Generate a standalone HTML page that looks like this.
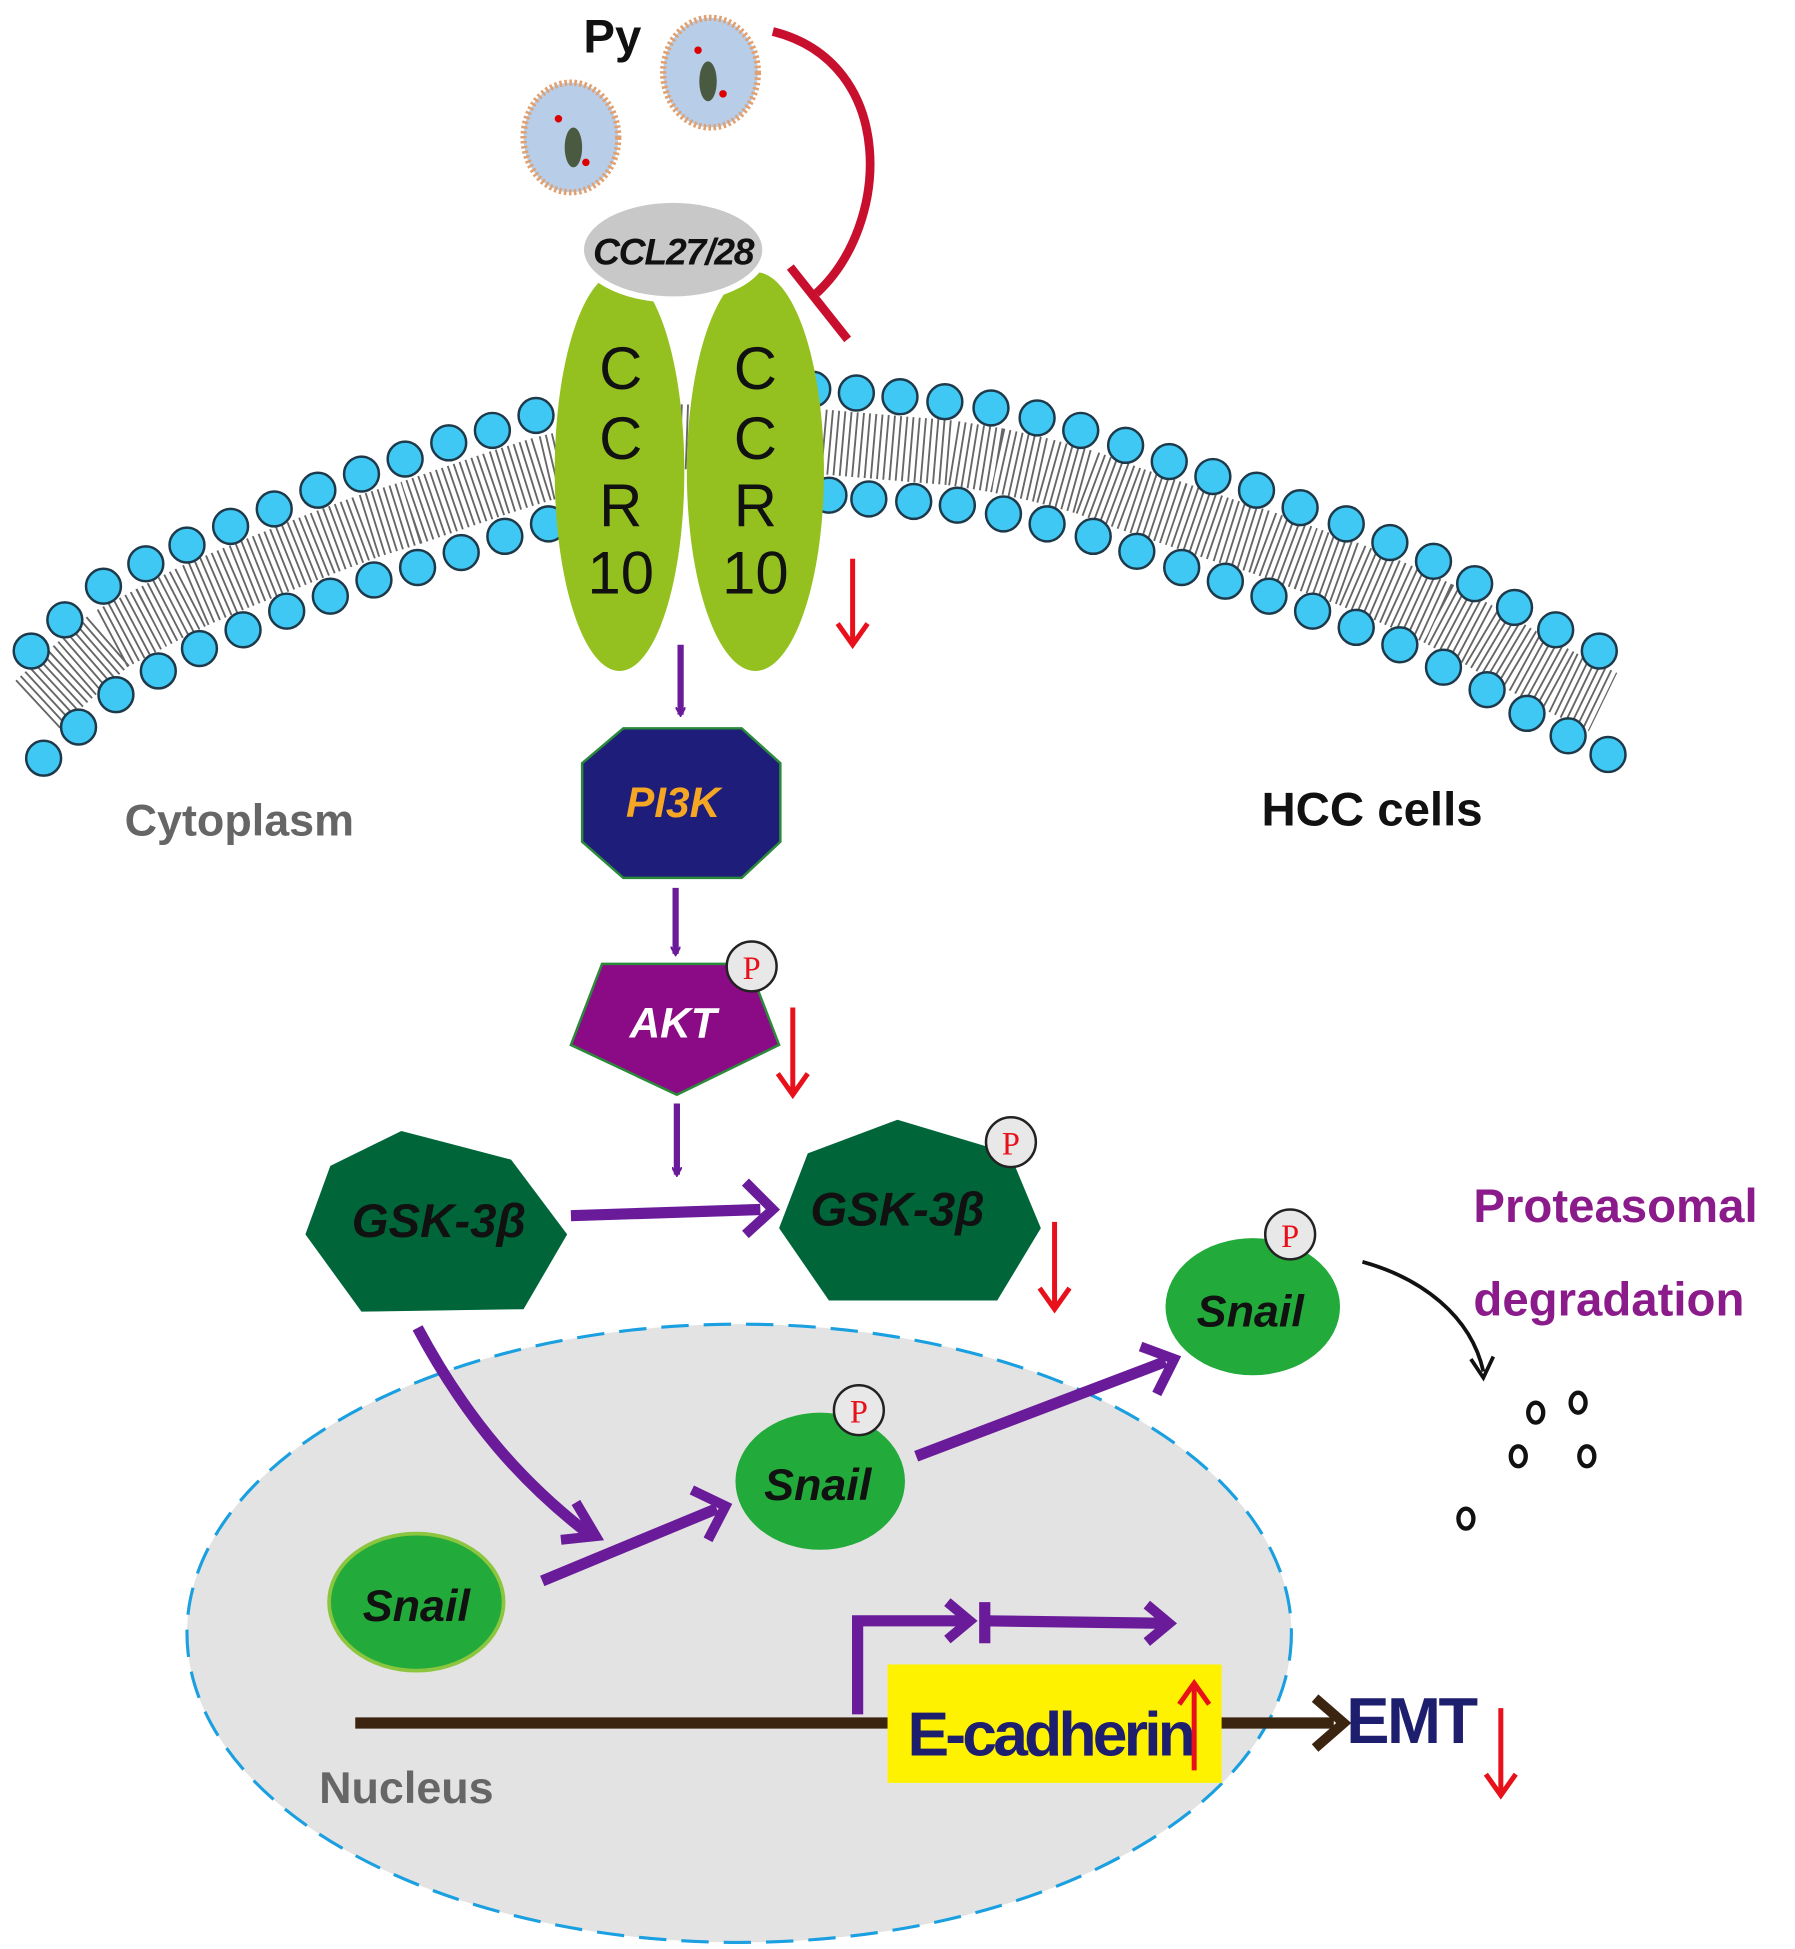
<!DOCTYPE html>
<html><head><meta charset="utf-8"><style>html,body{margin:0;padding:0;background:#fff}svg{display:block}</style></head>
<body>
<svg width="1795" height="1949" viewBox="0 0 1440 1563" xmlns="http://www.w3.org/2000/svg" font-family="Liberation Sans, sans-serif">
<defs>
<marker id="pa" markerWidth="8" markerHeight="8" refX="6" refY="4" orient="auto" markerUnits="userSpaceOnUse" viewBox="0 0 8 8"><path d="M0,0 L7,4 L0,8" fill="none" stroke="#6a1b9a" stroke-width="1.6"/></marker>
</defs>
<!-- membrane tails -->
<path d="M30,565 L57,540 L88,513 L122,495 L155,478 L190,463 L225,449 L260,435 L295,422 L330,411 L365,399 L400,387 L435,376 L545,350 L658,354 L692,357 L727,360 L763,363 L800,369 L836,377 L872,387 L907,400 L943,412 L978,424 L1013,435 L1048,448 L1084,461 L1119,476 L1154,492 L1188,510 L1220,529 L1253,547 L1286,563" fill="none" stroke="#666" stroke-width="52" stroke-dasharray="1.5 3.5"/>
<g fill="#3fc8f4" stroke="#1e3a4a" stroke-width="2">
<circle cx="25" cy="522" r="14"/><circle cx="52" cy="497" r="14"/><circle cx="83" cy="470" r="14"/><circle cx="117" cy="452" r="14"/><circle cx="150" cy="437" r="14"/><circle cx="185" cy="422" r="14"/><circle cx="220" cy="408" r="14"/><circle cx="255" cy="393" r="14"/><circle cx="290" cy="380" r="14"/><circle cx="325" cy="368" r="14"/><circle cx="360" cy="355" r="14"/><circle cx="395" cy="345" r="14"/><circle cx="430" cy="333" r="14"/>
<circle cx="652" cy="312" r="14"/><circle cx="687" cy="315" r="14"/><circle cx="722" cy="318" r="14"/><circle cx="758" cy="322" r="14"/><circle cx="795" cy="327" r="14"/><circle cx="832" cy="335" r="14"/><circle cx="867" cy="345" r="14"/><circle cx="903" cy="357" r="14"/><circle cx="938" cy="370" r="14"/><circle cx="973" cy="382" r="14"/><circle cx="1008" cy="393" r="14"/><circle cx="1043" cy="407" r="14"/><circle cx="1080" cy="420" r="14"/><circle cx="1115" cy="435" r="14"/><circle cx="1150" cy="450" r="14"/><circle cx="1183" cy="468" r="14"/><circle cx="1215" cy="487" r="14"/><circle cx="1248" cy="505" r="14"/><circle cx="1283" cy="522" r="14"/>
<circle cx="35" cy="608" r="14"/><circle cx="63" cy="583" r="14"/><circle cx="93" cy="557" r="14"/><circle cx="127" cy="538" r="14"/><circle cx="160" cy="520" r="14"/><circle cx="195" cy="505" r="14"/><circle cx="230" cy="490" r="14"/><circle cx="265" cy="478" r="14"/><circle cx="300" cy="465" r="14"/><circle cx="335" cy="455" r="14"/><circle cx="370" cy="443" r="14"/><circle cx="405" cy="430" r="14"/><circle cx="440" cy="420" r="14"/>
<circle cx="665" cy="397" r="14"/><circle cx="697" cy="400" r="14"/><circle cx="733" cy="402" r="14"/><circle cx="768" cy="405" r="14"/><circle cx="805" cy="412" r="14"/><circle cx="840" cy="420" r="14"/><circle cx="877" cy="430" r="14"/><circle cx="912" cy="442" r="14"/><circle cx="948" cy="455" r="14"/><circle cx="983" cy="466" r="14"/><circle cx="1018" cy="478" r="14"/><circle cx="1053" cy="490" r="14"/><circle cx="1088" cy="503" r="14"/><circle cx="1123" cy="517" r="14"/><circle cx="1158" cy="535" r="14"/><circle cx="1193" cy="553" r="14"/><circle cx="1225" cy="572" r="14"/><circle cx="1258" cy="590" r="14"/><circle cx="1290" cy="605" r="14"/>
</g>
<!-- receptor -->
<ellipse cx="497" cy="378" rx="52" ry="160" fill="#94c11f"/>
<ellipse cx="606" cy="378" rx="55" ry="160" fill="#94c11f"/>
<ellipse cx="540" cy="200" rx="74" ry="40" fill="#c8c8c8" stroke="#fff" stroke-width="5"/>
<text x="540" y="212" font-size="30" font-weight="bold" font-style="italic" text-anchor="middle" fill="#111" letter-spacing="-1">CCL27/28</text>
<g font-size="48" text-anchor="middle" fill="#111">
<text x="498" y="312">C</text><text x="498" y="368">C</text><text x="498" y="422">R</text><text x="498" y="476">10</text>
<text x="606" y="312">C</text><text x="606" y="368">C</text><text x="606" y="422">R</text><text x="606" y="476">10</text>
</g>
<!-- Py -->
<text x="468" y="42" font-size="38" font-weight="bold" fill="#111">Py</text>
<ellipse cx="458" cy="110" rx="38" ry="44" fill="#b8cde8" stroke="#e0a070" stroke-width="5" stroke-dasharray="2 2"/>
<ellipse cx="570" cy="58" rx="38" ry="44" fill="#b8cde8" stroke="#e0a070" stroke-width="5" stroke-dasharray="2 2"/>
<ellipse cx="460" cy="118" rx="7" ry="16" fill="#4a5a40"/><ellipse cx="568" cy="65" rx="7" ry="16" fill="#4a5a40"/>
<circle cx="448" cy="95" r="3" fill="#d00"/><circle cx="470" cy="130" r="3" fill="#d00"/><circle cx="560" cy="40" r="3" fill="#d00"/><circle cx="580" cy="75" r="3" fill="#d00"/>
<path d="M620,25 C720,50 715,180 655,235" fill="none" stroke="#c8102e" stroke-width="7"/>
<line x1="634" y1="214" x2="680" y2="272" stroke="#c8102e" stroke-width="7"/>
<!-- red arrows -->
<g stroke="#e8101a" stroke-width="4" fill="none">
<path d="M684,448 L684,517 M672,500 L684,517 L696,500"/>
<path d="M636,808 L636,878 M624,861 L636,878 L648,861"/>
<path d="M846,980 L846,1050 M834,1033 L846,1050 L858,1033"/>
<path d="M415,1265 L415,1335 M403,1318 L415,1335 L427,1318"/>
<path d="M1204,1370 L1204,1440 M1192,1423 L1204,1440 L1216,1423"/>
</g>
<!-- purple arrows -->
<g stroke="#6a1b9a" stroke-width="5" fill="none">
<line x1="546" y1="517" x2="546" y2="573" marker-end="url(#pa)"/>
<line x1="542" y1="712" x2="542" y2="765" marker-end="url(#pa)"/>
<line x1="543" y1="885" x2="543" y2="942" marker-end="url(#pa)"/>
</g>
<g stroke="#6a1b9a" stroke-width="9" fill="none">
<line x1="458" y1="975" x2="610" y2="970"/><path d="M598,948 L620,970 L598,990" stroke-width="8"/>
</g>
<!-- nucleus -->
<ellipse cx="593" cy="1310" rx="443" ry="248" fill="#e3e3e3" stroke="#1a9fe0" stroke-width="2.5" stroke-dasharray="22 12"/>
<g stroke="#6a1b9a" stroke-width="9" fill="none">
<path d="M335,1065 C375,1140 420,1190 472,1230"/><path d="M462,1205 L478,1232 L450,1235" stroke-width="8"/>
<line x1="435" y1="1268" x2="575" y2="1210"/><path d="M555,1195 L582,1208 L568,1235" stroke-width="8"/>
<line x1="735" y1="1168" x2="935" y2="1092"/><path d="M915,1080 L942,1090 L928,1118" stroke-width="8"/>
<path d="M688,1375 L688,1300 L775,1300"/><path d="M760,1285 L778,1300 L760,1315" stroke-width="8"/>
<line x1="790" y1="1285" x2="790" y2="1318"/>
<line x1="790" y1="1300" x2="935" y2="1302"/><path d="M920,1287 L938,1302 L920,1317" stroke-width="8"/>
</g>
<!-- DNA line -->
<line x1="285" y1="1382" x2="1070" y2="1382" stroke="#3b2410" stroke-width="9"/>
<path d="M1055,1362 L1078,1382 L1055,1402" fill="none" stroke="#3b2410" stroke-width="8"/>
<rect x="712" y="1335" width="268" height="95" fill="#fff200"/>
<text x="728" y="1408" font-size="50" font-weight="bold" fill="#1e1e6e" letter-spacing="-3">E-cadherin</text>
<path d="M958,1420 L958,1350 M946,1367 L958,1350 L970,1367" fill="none" stroke="#e8101a" stroke-width="4"/>
<text x="1080" y="1398" font-size="52" font-weight="bold" fill="#1e1e6e" letter-spacing="-2">EMT</text>
<!-- shapes -->
<polygon points="500,584 595,584 626,612 626,675 595,704 500,704 467,675 467,612" fill="#1e1e7a" stroke="#2a8a3a" stroke-width="2"/>
<text x="540" y="655" font-size="34" font-weight="bold" font-style="italic" text-anchor="middle" fill="#f5a623">PI3K</text>
<polygon points="483,773 600,773 625,838 543,878 458,838" fill="#8b0a85" stroke="#2a8a3a" stroke-width="2"/>
<text x="540" y="832" font-size="34" font-weight="bold" font-style="italic" text-anchor="middle" fill="#fff">AKT</text>
<polygon points="322,907 410,930 455,990 420,1050 290,1052 245,990 265,935" fill="#00663a"/>
<text x="352" y="992" font-size="38" font-weight="bold" font-style="italic" text-anchor="middle" fill="#111">GSK-3β</text>
<polygon points="720,898 810,925 835,985 800,1043 665,1043 625,985 648,925" fill="#00663a"/>
<text x="720" y="983" font-size="38" font-weight="bold" font-style="italic" text-anchor="middle" fill="#111">GSK-3β</text>
<ellipse cx="1005" cy="1048" rx="70" ry="55" fill="#22aa3a"/>
<text x="1003" y="1064" font-size="36" font-weight="bold" font-style="italic" text-anchor="middle" fill="#111">Snail</text>
<ellipse cx="658" cy="1188" rx="68" ry="55" fill="#22aa3a"/>
<text x="656" y="1203" font-size="36" font-weight="bold" font-style="italic" text-anchor="middle" fill="#111">Snail</text>
<ellipse cx="334" cy="1285" rx="70" ry="55" fill="#22aa3a" stroke="#8cc63f" stroke-width="3"/>
<text x="334" y="1300" font-size="36" font-weight="bold" font-style="italic" text-anchor="middle" fill="#111">Snail</text>
<!-- P circles -->
<g font-family="Liberation Serif, serif" font-size="26" fill="#e8101a" text-anchor="middle">
<circle cx="603" cy="775" r="20" fill="#e8e8e8" stroke="#222" stroke-width="2"/><text x="603" y="785">P</text>
<circle cx="811" cy="916" r="20" fill="#e8e8e8" stroke="#222" stroke-width="2"/><text x="811" y="926">P</text>
<circle cx="1035" cy="990" r="20" fill="#e8e8e8" stroke="#222" stroke-width="2"/><text x="1035" y="1000">P</text>
<circle cx="689" cy="1131" r="20" fill="#e8e8e8" stroke="#222" stroke-width="2"/><text x="689" y="1141">P</text>
</g>
<!-- degradation -->
<path d="M1093,1012 C1140,1025 1180,1055 1190,1100" fill="none" stroke="#111" stroke-width="3"/>
<path d="M1180,1090 L1190,1105 L1198,1088" fill="none" stroke="#111" stroke-width="3"/>
<g fill="none" stroke="#111" stroke-width="3.5">
<ellipse cx="1232" cy="1133" rx="6" ry="8"/><ellipse cx="1266" cy="1125" rx="6" ry="8"/><ellipse cx="1218" cy="1168" rx="6" ry="8"/><ellipse cx="1273" cy="1168" rx="6" ry="8"/><ellipse cx="1176" cy="1218" rx="6" ry="8"/>
</g>
<text x="1182" y="980" font-size="38" font-weight="bold" fill="#8b1a8b">Proteasomal</text>
<text x="1182" y="1055" font-size="38" font-weight="bold" fill="#8b1a8b">degradation</text>
<text x="100" y="670" font-size="36" font-weight="bold" fill="#666">Cytoplasm</text>
<text x="1012" y="662" font-size="38" font-weight="bold" fill="#111">HCC cells</text>
<text x="256" y="1446" font-size="36" font-weight="bold" fill="#666">Nucleus</text>
</svg>
</body></html>
